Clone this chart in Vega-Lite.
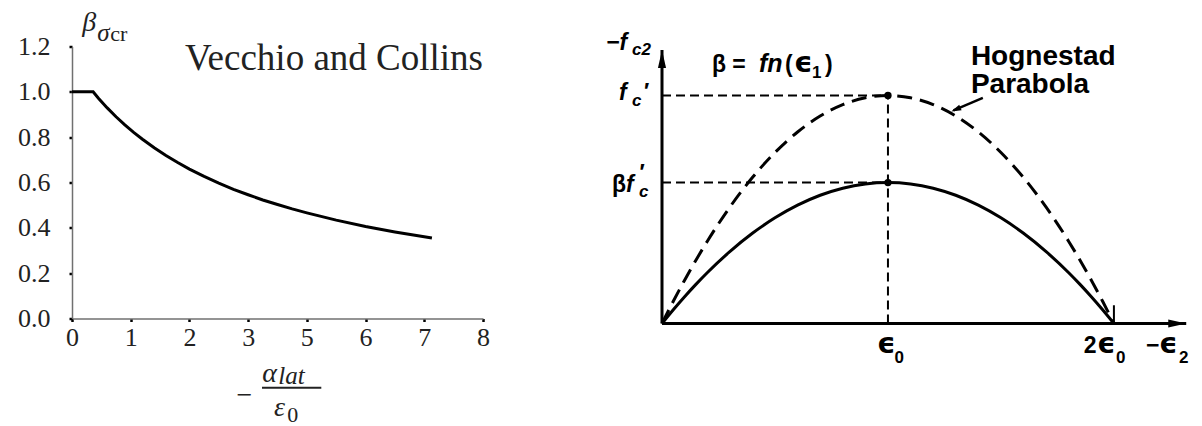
{
  "$schema": "https://vega.github.io/schema/vega-lite/v6.json",
  "background": "white",
  "padding": {"left": 17, "top": 8.5, "right": 3, "bottom": 0},
  "bounds": "flush",
  "spacing": 179,
  "config": {"view": {"stroke": null}},
  "datasets": {
    "vcCurve": [
      {"x": 0, "y": 1.0}, {"x": 0.36, "y": 1.0}, {"x": 0.45, "y": 0.972}, {"x": 0.6, "y": 0.929},
      {"x": 0.75, "y": 0.89}, {"x": 0.9, "y": 0.854}, {"x": 1.05, "y": 0.821}, {"x": 1.2, "y": 0.791},
      {"x": 1.4, "y": 0.753}, {"x": 1.6, "y": 0.719}, {"x": 1.8, "y": 0.688}, {"x": 2.0, "y": 0.659},
      {"x": 2.25, "y": 0.627}, {"x": 2.5, "y": 0.597}, {"x": 2.75, "y": 0.57}, {"x": 3.0, "y": 0.546},
      {"x": 3.5, "y": 0.523}, {"x": 4.0, "y": 0.503}, {"x": 4.5, "y": 0.4835}, {"x": 5.0, "y": 0.466},
      {"x": 5.5, "y": 0.434}, {"x": 6.0, "y": 0.406}, {"x": 6.5, "y": 0.382}, {"x": 7.13, "y": 0.355}
    ],
    "vcTitle": [{"x": 8, "y": 1.095, "t": "Vecchio and Collins"}],
    "mathItalic": [
      {"x": 0.176, "y": 1.269, "t": "β"},
      {"x": 3.48, "y": -0.28, "t": "α"},
      {"x": 3.88, "y": -0.43, "t": "ε"}
    ],
    "mathScriptItalic": [
      {"x": 0.431, "y": 1.225, "t": "σ"},
      {"x": 4.028, "y": -0.29, "t": "lat"}
    ],
    "mathScriptUpright": [
      {"x": 0.65, "y": 1.225, "t": "cr"},
      {"x": 4.334, "y": -0.455, "t": "0"}
    ],
    "mathMinus": [{"x": 2.935, "y": -0.377, "t": "−"}],
    "fractionBar": [{"x": 3.472, "x2": 5.246, "y": -0.306}],
    "axesLines": [
      {"x": 0, "y": 0, "x2": 0, "y2": 1.2},
      {"x": 0, "y": 0, "x2": 2.32, "y2": 0}
    ],
    "arrowUp": [{"x": 0, "y": 1.2}],
    "arrowRight": [{"x": 2.32, "y": 0}],
    "hognestad": [
      {"x": 0, "y": 0}, {"x": 0.05, "y": 0.0975}, {"x": 0.1, "y": 0.19}, {"x": 0.15, "y": 0.2775},
      {"x": 0.2, "y": 0.36}, {"x": 0.3, "y": 0.51}, {"x": 0.4, "y": 0.64}, {"x": 0.5, "y": 0.75},
      {"x": 0.6, "y": 0.84}, {"x": 0.7, "y": 0.91}, {"x": 0.8, "y": 0.96}, {"x": 0.9, "y": 0.99},
      {"x": 1.0, "y": 1.0}, {"x": 1.1, "y": 0.99}, {"x": 1.2, "y": 0.96}, {"x": 1.3, "y": 0.91},
      {"x": 1.4, "y": 0.84}, {"x": 1.5, "y": 0.75}, {"x": 1.6, "y": 0.64}, {"x": 1.7, "y": 0.51},
      {"x": 1.8, "y": 0.36}, {"x": 1.85, "y": 0.2775}, {"x": 1.9, "y": 0.19}, {"x": 1.95, "y": 0.0975},
      {"x": 2.0, "y": 0}
    ],
    "reduced": [
      {"x": 0, "y": 0}, {"x": 0.05, "y": 0.0603}, {"x": 0.1, "y": 0.1174}, {"x": 0.15, "y": 0.1715},
      {"x": 0.2, "y": 0.2225}, {"x": 0.3, "y": 0.3152}, {"x": 0.4, "y": 0.3955}, {"x": 0.5, "y": 0.4635},
      {"x": 0.6, "y": 0.5191}, {"x": 0.7, "y": 0.5624}, {"x": 0.8, "y": 0.5933}, {"x": 0.9, "y": 0.6118},
      {"x": 1.0, "y": 0.618}, {"x": 1.1, "y": 0.6118}, {"x": 1.2, "y": 0.5933}, {"x": 1.3, "y": 0.5624},
      {"x": 1.4, "y": 0.5191}, {"x": 1.5, "y": 0.4635}, {"x": 1.6, "y": 0.3955}, {"x": 1.7, "y": 0.3152},
      {"x": 1.8, "y": 0.2225}, {"x": 1.85, "y": 0.1715}, {"x": 1.9, "y": 0.1174}, {"x": 1.95, "y": 0.0603},
      {"x": 2.0, "y": 0}
    ],
    "guides": [
      {"x": 0, "y": 1, "x2": 1, "y2": 1},
      {"x": 0, "y": 0.618, "x2": 1, "y2": 0.618},
      {"x": 1, "y": 0, "x2": 1, "y2": 1}
    ],
    "peaks": [{"x": 1, "y": 1}, {"x": 1, "y": 0.618}],
    "endTick": [{"x": 2, "y": 0, "y2": 0.08}],
    "lblBold": [
      {"x": 1.867, "y": -0.129, "t": "2"},
      {"x": 2.142, "y": -0.129, "t": "−"},
      {"x": -0.221, "y": 0.577, "t": "β"},
      {"x": 0.221, "y": 1.103, "t": "β ="},
      {"x": 0.544, "y": 1.103, "t": "("},
      {"x": 0.721, "y": 1.103, "t": ")"}
    ],
    "epsilons": [
      {"x": 0.951, "y": -0.129, "t": "ϵ"},
      {"x": 1.925, "y": -0.129, "t": "ϵ"},
      {"x": 2.199, "y": -0.129, "t": "ϵ"},
      {"x": 0.584, "y": 1.103, "t": "ϵ"}
    ],
    "lblItalic": [
      {"x": -0.19, "y": 0.981, "t": "f"},
      {"x": -0.159, "y": 0.577, "t": "f"},
      {"x": -0.248, "y": 1.2, "t": "−f"}
    ],
    "titleItalic": [
      {"x": 0.429, "y": 1.103, "t": "fn"}
    ],
    "lblSubItalic": [
      {"x": -0.133, "y": 0.954, "t": "c"},
      {"x": -0.102, "y": 0.555, "t": "c"},
      {"x": -0.133, "y": 1.178, "t": "c2"}
    ],
    "lblSub": [
      {"x": 1.029, "y": -0.173, "t": "0"},
      {"x": 2.009, "y": -0.173, "t": "0"},
      {"x": 2.288, "y": -0.173, "t": "2"},
      {"x": 0.664, "y": 1.077, "t": "1"}
    ],
    "primes": [
      {"x": -0.08, "y": 0.989, "t": "′"},
      {"x": -0.1, "y": 0.635, "t": "′"}
    ],
    "callout": [
      {"x": 1.367, "y": 1.134, "t": "Hognestad"},
      {"x": 1.367, "y": 1.011, "t": "Parabola"}
    ],
    "calloutLine": [{"x": 1.42, "y": 0.99, "x2": 1.29, "y2": 0.935}],
    "calloutHead": [{"x": 1.28, "y": 0.93}]
  },
  "hconcat": [
    {
      "width": 411,
      "height": 272,
      "encoding": {
        "x": {
          "field": "x", "type": "quantitative",
          "scale": {"domain": [0, 3, 5, 8], "range": [0, 176.14, 234.86, 411], "nice": false, "zero": false},
          "axis": {
            "values": [0, 1, 2, 3, 5, 6, 7, 8], "title": null, "grid": false,
            "labelFont": "Liberation Serif", "labelFontSize": 26, "labelColor": "#222",
            "labelFlush": false, "labelOverlap": false, "labelPadding": 3,
            "tickSize": 3, "tickWidth": 2.5, "tickColor": "#000",
            "domainColor": "#707070", "domainWidth": 1.5
          }
        },
        "y": {
          "field": "y", "type": "quantitative",
          "scale": {"domain": [0, 1.2], "nice": false, "zero": false},
          "axis": {
            "values": [0, 0.2, 0.4, 0.6, 0.8, 1, 1.2], "format": ".1f", "title": null, "grid": false,
            "labelFont": "Liberation Serif", "labelFontSize": 26, "labelColor": "#222",
            "labelPadding": 19, "labelOverlap": false,
            "tickSize": 3, "tickWidth": 2.5, "tickColor": "#000",
            "domainColor": "#707070", "domainWidth": 1.5
          }
        }
      },
      "layer": [
        {
          "data": {"name": "vcCurve"},
          "mark": {"type": "line", "color": "#000", "strokeWidth": 3, "interpolate": "linear", "clip": false}
        },
        {
          "data": {"name": "vcTitle"},
          "mark": {"type": "text", "font": "Liberation Serif", "fontSize": 37, "align": "right", "baseline": "alphabetic", "color": "#222", "clip": false},
          "encoding": {"text": {"field": "t"}}
        },
        {
          "data": {"name": "mathItalic"},
          "mark": {"type": "text", "font": "Liberation Serif", "fontSize": 28, "fontStyle": "italic", "align": "left", "baseline": "alphabetic", "color": "#222", "clip": false},
          "encoding": {"text": {"field": "t"}}
        },
        {
          "data": {"name": "mathScriptItalic"},
          "mark": {"type": "text", "font": "Liberation Serif", "fontSize": 25, "fontStyle": "italic", "align": "left", "baseline": "alphabetic", "color": "#222", "clip": false},
          "encoding": {"text": {"field": "t"}}
        },
        {
          "data": {"name": "mathScriptUpright"},
          "mark": {"type": "text", "font": "Liberation Serif", "fontSize": 22, "align": "left", "baseline": "alphabetic", "color": "#222", "clip": false},
          "encoding": {"text": {"field": "t"}}
        },
        {
          "data": {"name": "mathMinus"},
          "mark": {"type": "text", "font": "Liberation Serif", "fontSize": 28, "align": "center", "baseline": "alphabetic", "color": "#222", "clip": false},
          "encoding": {"text": {"field": "t"}}
        },
        {
          "data": {"name": "fractionBar"},
          "mark": {"type": "rule", "color": "#222", "strokeWidth": 2, "clip": false},
          "encoding": {"x2": {"field": "x2"}}
        }
      ]
    },
    {
      "width": 531,
      "height": 277,
      "encoding": {
        "x": {"field": "x", "type": "quantitative", "scale": {"domain": [0, 2.35], "nice": false, "zero": false}, "axis": null},
        "y": {"field": "y", "type": "quantitative", "scale": {"domain": [0, 1.2149], "nice": false, "zero": false}, "axis": null}
      },
      "layer": [
        {
          "data": {"name": "guides"},
          "mark": {"type": "rule", "color": "#000", "strokeWidth": 2, "strokeDash": [9, 5], "clip": false},
          "encoding": {"x2": {"field": "x2"}, "y2": {"field": "y2"}}
        },
        {
          "data": {"name": "hognestad"},
          "mark": {"type": "line", "color": "#000", "strokeWidth": 3, "strokeDash": [15, 8], "interpolate": "monotone", "clip": false}
        },
        {
          "data": {"name": "reduced"},
          "mark": {"type": "line", "color": "#000", "strokeWidth": 3, "interpolate": "monotone", "clip": false}
        },
        {
          "data": {"name": "axesLines"},
          "mark": {"type": "rule", "color": "#000", "strokeWidth": 3, "clip": false},
          "encoding": {"x2": {"field": "x2"}, "y2": {"field": "y2"}}
        },
        {
          "data": {"name": "endTick"},
          "mark": {"type": "rule", "color": "#000", "strokeWidth": 2, "clip": false},
          "encoding": {"y2": {"field": "y2"}}
        },
        {
          "data": {"name": "arrowUp"},
          "mark": {"type": "point", "shape": "M0,0L-0.45,2L0.45,2Z", "size": 324, "filled": true, "color": "#000", "opacity": 1, "strokeWidth": 0, "clip": false}
        },
        {
          "data": {"name": "arrowRight"},
          "mark": {"type": "point", "shape": "M0,0L-2,-0.45L-2,0.45Z", "size": 324, "filled": true, "color": "#000", "opacity": 1, "strokeWidth": 0, "clip": false}
        },
        {
          "data": {"name": "peaks"},
          "mark": {"type": "circle", "size": 55, "color": "#000", "opacity": 1, "clip": false}
        },
        {
          "data": {"name": "calloutLine"},
          "mark": {"type": "rule", "color": "#000", "strokeWidth": 2.5, "clip": false},
          "encoding": {"x2": {"field": "x2"}, "y2": {"field": "y2"}}
        },
        {
          "data": {"name": "calloutHead"},
          "mark": {"type": "point", "shape": "M0,0L-2,-0.6L-2,0.6Z", "size": 100, "angle": 156.6, "filled": true, "color": "#000", "opacity": 1, "strokeWidth": 0, "clip": false}
        },
        {
          "data": {"name": "lblBold"},
          "mark": {"type": "text", "font": "Liberation Sans, DejaVu Sans", "fontSize": 23, "fontWeight": "bold", "align": "left", "baseline": "alphabetic", "color": "#000", "clip": false},
          "encoding": {"text": {"field": "t"}}
        },
        {
          "data": {"name": "epsilons"},
          "mark": {"type": "text", "font": "DejaVu Sans", "fontSize": 29, "fontWeight": "bold", "align": "left", "baseline": "alphabetic", "color": "#000", "clip": false},
          "encoding": {"text": {"field": "t"}}
        },
        {
          "data": {"name": "lblItalic"},
          "mark": {"type": "text", "font": "Liberation Sans, DejaVu Sans", "fontSize": 23, "fontWeight": "bold", "fontStyle": "italic", "align": "left", "baseline": "alphabetic", "color": "#000", "clip": false},
          "encoding": {"text": {"field": "t"}}
        },
        {
          "data": {"name": "titleItalic"},
          "mark": {"type": "text", "font": "Liberation Sans, DejaVu Sans", "fontSize": 25, "fontWeight": "bold", "fontStyle": "italic", "align": "left", "baseline": "alphabetic", "color": "#000", "clip": false},
          "encoding": {"text": {"field": "t"}}
        },
        {
          "data": {"name": "lblSubItalic"},
          "mark": {"type": "text", "font": "Liberation Sans, DejaVu Sans", "fontSize": 17, "fontWeight": "bold", "fontStyle": "italic", "align": "left", "baseline": "alphabetic", "color": "#000", "clip": false},
          "encoding": {"text": {"field": "t"}}
        },
        {
          "data": {"name": "lblSub"},
          "mark": {"type": "text", "font": "Liberation Sans, DejaVu Sans", "fontSize": 17, "fontWeight": "bold", "align": "left", "baseline": "alphabetic", "color": "#000", "clip": false},
          "encoding": {"text": {"field": "t"}}
        },
        {
          "data": {"name": "primes"},
          "mark": {"type": "text", "font": "Liberation Sans, DejaVu Sans", "fontSize": 22, "fontWeight": "bold", "align": "left", "baseline": "alphabetic", "color": "#000", "clip": false},
          "encoding": {"text": {"field": "t"}}
        },
        {
          "data": {"name": "callout"},
          "mark": {"type": "text", "font": "Liberation Sans, DejaVu Sans", "fontSize": 28, "fontWeight": "bold", "align": "left", "baseline": "alphabetic", "color": "#000", "clip": false},
          "encoding": {"text": {"field": "t"}}
        }
      ]
    }
  ]
}
